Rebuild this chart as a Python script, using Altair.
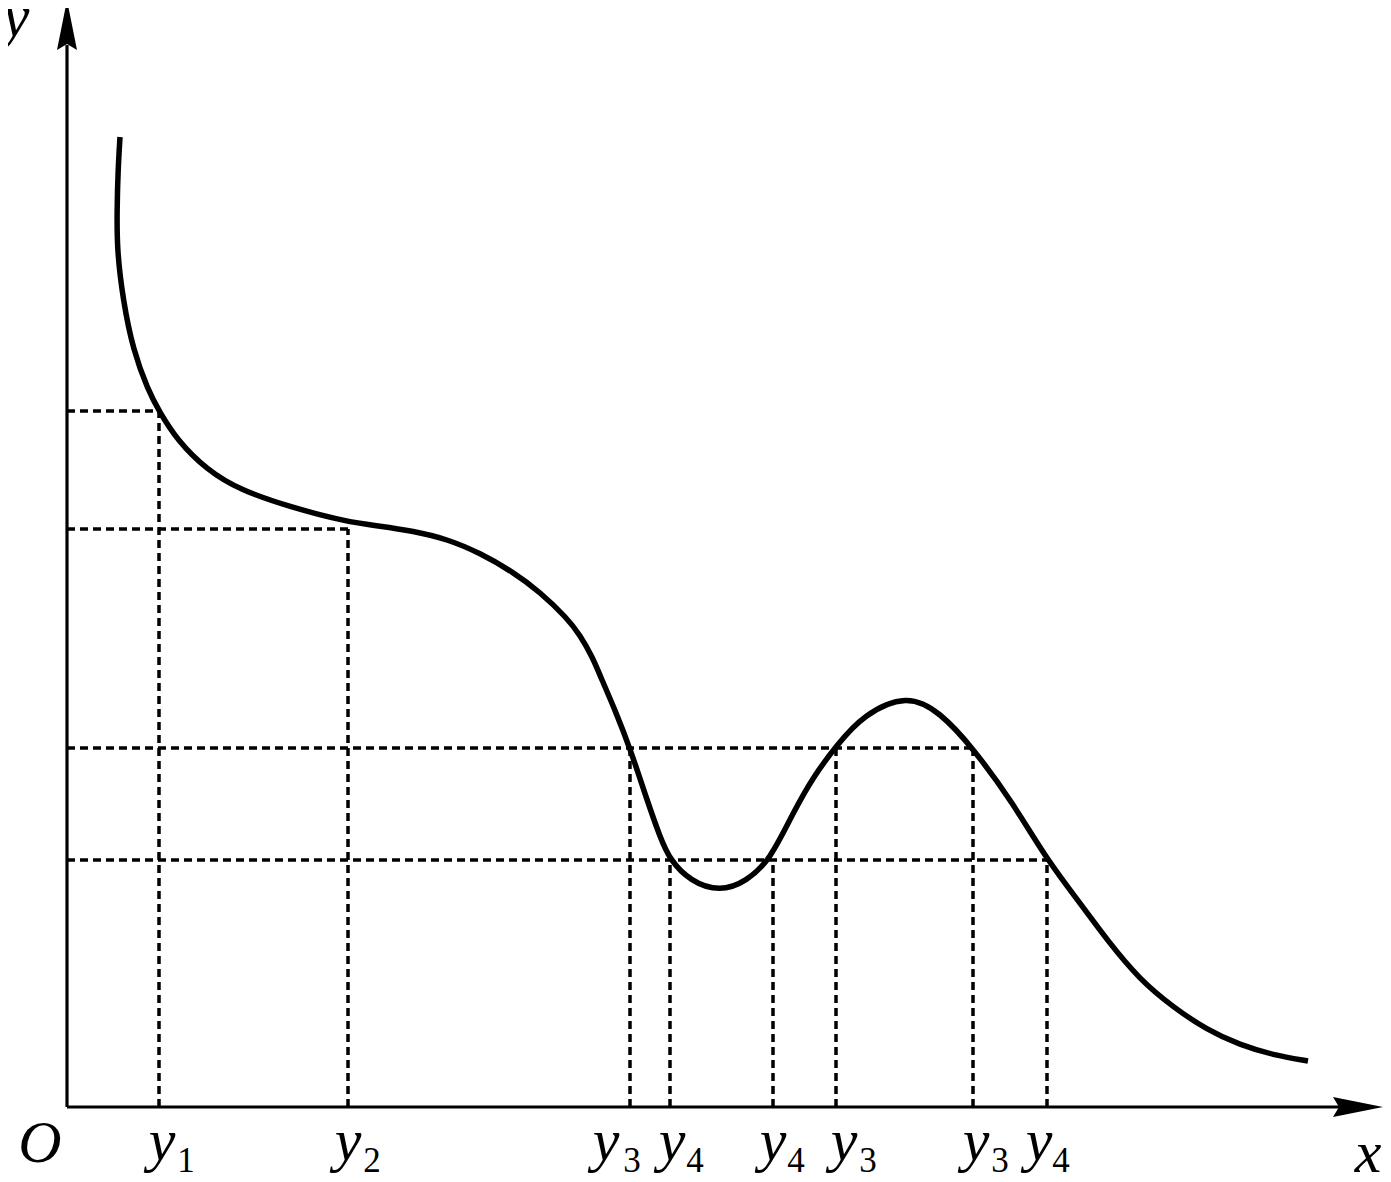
import altair as alt
import pandas as pd

# Curve (origin O = (0, 0), 1 unit = 100 px)
curve_x = [0.53, 0.51, 0.50, 0.50, 0.56, 0.66, 0.81, 0.92, 1.10, 1.40, 1.73, 2.23,
           2.80, 3.13, 3.46, 3.80, 4.13, 4.46, 4.73, 5.00, 5.13, 5.25, 5.35, 5.48, 5.63,
           5.80, 5.93, 6.03, 6.23, 6.53, 6.80, 7.03, 7.26, 7.46, 7.70, 7.96, 8.40,
           8.73, 9.06, 9.46, 9.80, 10.16, 10.40, 10.73, 11.06, 11.40, 11.73, 12.06, 12.41]
curve_y = [9.70, 9.37, 8.97, 8.57, 8.07, 7.57, 7.17, 6.96, 6.67, 6.37, 6.17, 6.00,
           5.85, 5.81, 5.76, 5.68, 5.54, 5.35, 5.15, 4.89, 4.72, 4.51, 4.27, 3.97, 3.59,
           3.07, 2.70, 2.47, 2.26, 2.15, 2.26, 2.47, 2.94, 3.30, 3.62, 3.92, 4.13,
           3.95, 3.59, 3.04, 2.47, 2.00, 1.67, 1.27, 1.00, 0.77, 0.62, 0.52, 0.46]

# Dotted guide lines
hline_y = [6.96, 5.78, 3.59, 2.47]
hline_xend = [0.92, 2.81, 9.06, 9.80]
vline_x = [0.92, 2.81, 5.63, 6.03, 7.06, 7.69, 9.06, 9.80]
vline_ytop = [6.96, 5.78, 3.59, 2.47, 2.47, 3.59, 3.59, 2.47]

# Tick-like labels under the x axis
label_main_x = [0.95, 2.81, 5.39, 6.05, 7.06, 7.77, 9.09, 9.72]
label_sub = ["1", "2", "3", "4", "4", "3", "3", "4"]
label_sub_x = [1.19, 3.05, 5.65, 6.28, 7.29, 8.01, 9.33, 9.94]
main_baseline = -0.53
sub_baseline = -0.65

# Axis names
axis_text = ["O", "x", "y"]
axis_text_x = [-0.27, 13.01, -0.51]
axis_text_y = [-0.55, -0.65, 10.71]

W, H = 1375, 1166
xs = alt.Scale(domain=[-0.59, 13.16], nice=False, zero=False)
ys = alt.Scale(domain=[-0.67, 10.99], nice=False, zero=False)
FONT = "Liberation Serif"

def X(f="x"):
    return alt.X(f"{f}:Q", scale=xs, axis=None)

def Y(f="y"):
    return alt.Y(f"{f}:Q", scale=ys, axis=None)

curve_df = pd.DataFrame({"x": curve_x, "y": curve_y, "i": list(range(len(curve_x)))})
curve = alt.Chart(curve_df).mark_line(
    color="black", strokeWidth=5.5, interpolate="basis", clip=False
).encode(x=X(), y=Y(), order="i:Q")

h_df = pd.DataFrame({"y": hline_y, "x": [0.0] * len(hline_y), "x2": hline_xend})
hlines = alt.Chart(h_df).mark_rule(
    color="black", strokeWidth=3.5, strokeDash=[8, 5]
).encode(x=X(), x2="x2:Q", y=Y())

v_df = pd.DataFrame({"x": vline_x, "y": [0.0] * len(vline_x), "y2": vline_ytop})
vlines = alt.Chart(v_df).mark_rule(
    color="black", strokeWidth=3.5, strokeDash=[8, 5]
).encode(x=X(), y=Y(), y2="y2:Q")

xaxis_df = pd.DataFrame({"x": [0.0], "x2": [12.73], "y": [0.0]})
xaxis = alt.Chart(xaxis_df).mark_rule(color="black", strokeWidth=3.2).encode(
    x=X(), x2="x2:Q", y=Y())
yaxis_df = pd.DataFrame({"x": [0.0], "y": [0.0], "y2": [10.62]})
yaxis = alt.Chart(yaxis_df).mark_rule(color="black", strokeWidth=3.2).encode(
    x=X(), y=Y(), y2="y2:Q")

arrow_right = "M1,0 L-1,-0.4 L-0.76,0 L-1,0.4 Z"
arrow_up = "M0,-1 L0.4,1 L0,0.76 L-0.4,1 Z"
ar_df = pd.DataFrame({"x": [12.91], "y": [0.0]})
au_df = pd.DataFrame({"x": [0.0], "y": [10.82]})
arrow_r = alt.Chart(ar_df).mark_point(
    shape=arrow_right, size=2500, filled=True, fill="black", opacity=1, strokeWidth=0, clip=False
).encode(x=X(), y=Y())
arrow_u = alt.Chart(au_df).mark_point(
    shape=arrow_up, size=2500, filled=True, fill="black", opacity=1, strokeWidth=0, clip=False
).encode(x=X(), y=Y())

main_df = pd.DataFrame({"x": label_main_x, "y": [main_baseline] * len(label_main_x),
                        "t": ["y"] * len(label_main_x)})
main_labels = alt.Chart(main_df).mark_text(
    font=FONT, fontSize=60, fontStyle="italic", align="center", baseline="alphabetic",
    color="black", clip=False
).encode(x=X(), y=Y(), text="t:N")

sub_df = pd.DataFrame({"x": label_sub_x, "y": [sub_baseline] * len(label_sub_x), "t": label_sub})
sub_labels = alt.Chart(sub_df).mark_text(
    font=FONT, fontSize=35, align="center", baseline="alphabetic", color="black", clip=False
).encode(x=X(), y=Y(), text="t:N")

ax_df = pd.DataFrame({"x": axis_text_x, "y": axis_text_y, "t": axis_text})
ax_labels = alt.Chart(ax_df).mark_text(
    font=FONT, fontSize=60, fontStyle="italic", align="center", baseline="alphabetic",
    color="black", clip=False
).encode(x=X(), y=Y(), text="t:N")

chart = alt.layer(
    hlines, vlines, xaxis, yaxis, arrow_r, arrow_u, curve, main_labels, sub_labels, ax_labels
).properties(
    width=W, height=H, autosize=alt.AutoSizeParams(type="none"), padding=0,
    background="white"
).configure_view(stroke=None)

chart.save("out.html", embed_options={"renderer": "svg", "actions": False})
